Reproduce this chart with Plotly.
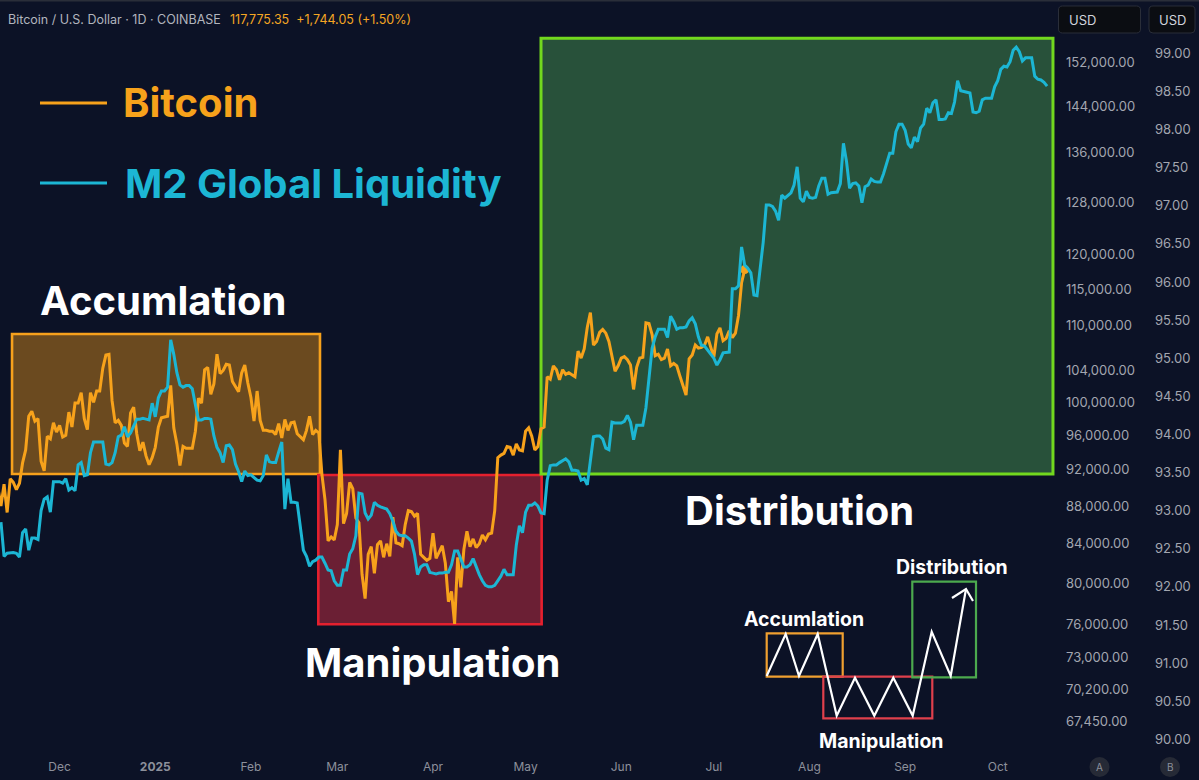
import plotly.graph_objects as go
import pandas as pd

# ---------------- DATA ----------------
# Bitcoin daily close, thousands of USD
btc_2024_11 = [90.0, 88.0, 90.4, 87.3, 91.0, 90.6, 89.8, 90.5, 92.8, 94.3, 98.3, 98.9, 97.7, 98.0, 93.0, 91.9, 95.9, 95.6, 97.5, 96.4]
btc_2024_12 = [97.2, 95.8, 96.0, 98.8, 97.0, 99.9, 99.9, 101.2, 98.0, 96.7, 101.2, 100.0, 101.4, 101.4, 104.3, 106.0, 106.1, 100.2, 97.5, 97.8,
               97.2, 95.1, 94.7, 98.7, 99.4, 96.2, 94.2, 95.2, 93.6, 92.6, 93.4]
btc_2025_01 = [94.6, 97.0, 98.1, 98.2, 98.3, 102.1, 96.9, 95.0, 92.5, 94.7, 94.5, 94.5, 94.5, 96.5, 100.5, 99.9, 104.1, 104.4, 101.0, 102.3,
               106.1, 103.6, 104.0, 104.8, 104.7, 102.6, 102.0, 101.3, 103.7, 104.7, 102.4]
btc_2025_02 = [100.6, 97.7, 101.4, 97.8, 96.6, 96.6, 96.5, 96.5, 96.1, 97.4, 95.7, 97.9, 96.6, 97.5, 97.6, 96.2, 95.8, 95.5, 96.6, 98.3,
               96.1, 96.6, 96.3, 91.5, 88.7, 84.3, 84.7, 84.4]
btc_2025_03 = [86.0, 94.3, 86.1, 87.2, 90.6, 89.9, 86.7, 86.2, 80.9, 78.5, 82.9, 83.7, 81.0, 83.9, 84.3, 82.6, 84.0, 82.7, 86.8, 84.1,
               84.0, 83.8, 86.0, 87.5, 87.4, 86.9, 87.2, 82.9, 82.6, 82.3, 82.5]
btc_2025_04 = [85.1, 82.5, 83.1, 83.8, 82.0, 78.2, 79.2, 76.1, 82.6, 79.6, 83.4, 85.3, 83.7, 84.5, 83.6, 84.0, 84.9, 84.4, 85.0, 85.1,
               87.5, 93.4, 93.7, 93.9, 94.7, 94.6, 93.7, 95.0, 94.3, 94.2]
btc_2025_05 = [96.5, 96.9, 95.9, 94.3, 94.7, 96.8, 97.0, 103.2, 102.9, 104.6, 104.1, 102.8, 104.1, 103.5, 103.7, 103.5, 103.2, 106.5, 105.6, 106.8,
               109.7, 111.7, 107.3, 107.8, 109.0, 109.4, 108.9, 107.8, 105.6, 103.9, 104.6]
btc_2025_06 = [105.6, 105.8, 105.4, 104.7, 101.6, 104.4, 105.6, 105.7, 110.3, 110.2, 108.7, 105.9, 106.1, 105.4, 105.6, 106.8, 104.6, 104.9, 104.6, 103.3,
               102.1, 100.9, 105.5, 106.0, 107.3, 106.9, 107.0, 107.3, 108.4, 107.1]
btc_2025_07 = [105.7, 108.8, 109.6, 107.9, 108.2, 109.2, 108.3, 108.9, 111.3, 115.9, 117.775]

btc_months = [("2024-11-11", btc_2024_11), ("2024-12-01", btc_2024_12), ("2025-01-01", btc_2025_01),
              ("2025-02-01", btc_2025_02), ("2025-03-01", btc_2025_03), ("2025-04-01", btc_2025_04),
              ("2025-05-01", btc_2025_05), ("2025-06-01", btc_2025_06), ("2025-07-01", btc_2025_07)]

# M2 Global Liquidity (shifted), index value on right scale
m2_2024_11 = [92.85, 92.40, 92.44, 92.45, 92.45, 92.44, 92.39, 92.71, 92.76, 92.48, 92.64, 92.64, 92.62, 93.00, 93.15, 93.18, 92.98, 93.38, 93.38]
m2_2024_12 = [93.38, 93.36, 93.42, 93.27, 93.30, 93.26, 93.60, 93.63, 93.46, 93.47, 93.76, 93.90, 93.90, 93.90, 93.90, 93.61, 93.60, 93.63, 93.76, 93.97,
              93.99, 94.10, 93.97, 94.02, 94.10, 94.20, 94.20, 94.21, 94.20, 94.19, 94.41]
m2_2025_01 = [94.23, 94.48, 94.57, 94.57, 94.62, 95.24, 95.05, 94.81, 94.65, 94.62, 94.64, 94.64, 94.60, 94.39, 94.19, 94.19, 94.21, 94.21, 94.20, 93.98,
              93.83, 93.76, 93.63, 93.85, 93.86, 93.80, 93.61, 93.51, 93.38, 93.52, 93.46]
m2_2025_02 = [93.47, 93.44, 93.40, 93.39, 93.46, 93.73, 93.64, 93.63, 93.63, 93.77, 93.90, 93.02, 93.42, 93.11, 93.11, 93.10, 92.79, 92.48, 92.40, 92.27,
              92.33, 92.35, 92.39, 92.39, 92.31, 92.22, 92.21, 92.08]
m2_2025_03 = [92.02, 92.02, 92.22, 92.22, 92.43, 92.50, 92.67, 93.23, 93.22, 92.97, 92.89, 92.94, 93.11, 93.07, 93.05, 93.04, 93.02, 92.96, 92.86, 92.73,
              92.68, 92.67, 92.67, 92.64, 92.60, 92.43, 92.16, 92.26, 92.29, 92.29, 92.19]
m2_2025_04 = [92.18, 92.17, 92.18, 92.18, 92.19, 92.19, 92.29, 92.47, 92.47, 92.35, 92.26, 92.26, 92.29, 92.37, 92.26, 92.16, 92.08, 92.02, 92.00, 92.00,
              92.02, 92.08, 92.14, 92.23, 92.16, 92.16, 92.16, 92.55, 92.80, 92.71]
m2_2025_05 = [92.98, 93.07, 93.07, 93.10, 93.06, 92.97, 92.96, 93.40, 93.59, 93.60, 93.60, 93.63, 93.65, 93.68, 93.64, 93.53, 93.53, 93.52, 93.40, 93.42,
              93.34, 93.66, 93.97, 93.98, 93.98, 93.94, 93.82, 93.80, 94.16, 94.15, 94.15]
m2_2025_06 = [94.15, 94.17, 94.25, 94.16, 93.93, 94.12, 94.12, 94.12, 94.35, 94.71, 95.13, 95.28, 95.38, 95.38, 95.38, 95.27, 95.55, 95.48, 95.38, 95.40,
              95.40, 95.41, 95.49, 95.53, 95.45, 95.28, 95.17, 95.16, 95.11, 95.06]
m2_2025_07 = [95.00, 94.91, 94.98, 95.07, 95.08, 95.08, 95.91, 95.91, 95.95, 96.46, 96.22, 96.18, 96.12, 95.83, 95.82, 96.18, 96.52, 97.01, 97.01, 96.99,
              96.93, 96.81, 97.14, 97.10, 97.14, 97.17, 97.27, 97.51, 97.10, 97.05, 97.19]
m2_2025_08 = [97.11, 97.10, 97.11, 97.26, 97.36, 97.36, 97.15, 97.17, 97.18, 97.18, 97.29, 97.82, 97.58, 97.23, 97.29, 97.30, 97.26, 97.04, 97.25, 97.27,
              97.35, 97.32, 97.31, 97.31, 97.42, 97.54, 97.69, 97.69, 97.97, 98.07, 98.07]
m2_2025_09 = [97.99, 97.81, 97.76, 97.90, 97.84, 98.02, 98.07, 98.28, 98.22, 98.35, 98.39, 98.13, 98.13, 98.14, 98.22, 98.21, 98.36, 98.64, 98.51, 98.50,
              98.49, 98.48, 98.23, 98.22, 98.24, 98.39, 98.41, 98.41, 98.41, 98.56]
m2_2025_10 = [98.64, 98.79, 98.83, 98.82, 98.89, 99.04, 99.08, 99.02, 98.90, 98.94, 98.94, 98.94, 98.70, 98.66, 98.65, 98.62, 98.57]

m2_months = [("2024-11-12", m2_2024_11), ("2024-12-01", m2_2024_12), ("2025-01-01", m2_2025_01),
             ("2025-02-01", m2_2025_02), ("2025-03-01", m2_2025_03), ("2025-04-01", m2_2025_04),
             ("2025-05-01", m2_2025_05), ("2025-06-01", m2_2025_06), ("2025-07-01", m2_2025_07),
             ("2025-08-01", m2_2025_08), ("2025-09-01", m2_2025_09), ("2025-10-01", m2_2025_10)]

# axis ticks
x_tick_dates = ["2024-12-01", "2025-01-01", "2025-02-01", "2025-03-01", "2025-04-01", "2025-05-01",
                "2025-06-01", "2025-07-01", "2025-08-01", "2025-09-01", "2025-10-01"]
x_tick_labels = ["Dec", "2025", "Feb", "Mar", "Apr", "May", "Jun", "Jul", "Aug", "Sep", "Oct"]
btc_ticks = [67450, 70200, 73000, 76000, 80000, 84000, 88000, 92000, 96000, 100000, 104000,
             110000, 115000, 120000, 128000, 136000, 144000, 152000]
m2_ticks = [90.0, 90.5, 91.0, 91.5, 92.0, 92.5, 93.0, 93.5, 94.0, 94.5, 95.0, 95.5, 96.0,
            96.5, 97.0, 97.5, 98.0, 98.5, 99.0]

# phase boxes: (start date, end date, low, high on M2 scale)
phase_acc = ("2024-11-15 14:00", "2025-02-23 09:00", 93.48, 95.317)
phase_man = ("2025-02-22 20:00", "2025-05-06 05:00", 91.509, 93.467)
phase_dis = ("2025-05-06 00:00", "2025-10-18 21:40", 93.48, 99.197)

# ---------------- BUILD SERIES ----------------
def build(months, scale=1.0):
    xs, ys = [], []
    for start, vals in months:
        xs += list(pd.date_range(start, periods=len(vals), freq="D"))
        ys += [v * scale for v in vals]
    return xs, ys

btc_x, btc_y = build(btc_months, 1000.0)
m2_x, m2_y = build(m2_months)

# ---------------- STYLE ----------------
W, H = 1199, 780
MT, MB = 30, 22
BG = "#0c1226"
ORANGE = "#f7a21b"
CYAN = "#1cb6d4"
FONT = "Inter"

def px(x):
    return x / W

def py(y):
    return (H - MB - y) / (H - MT - MB)

fig = go.Figure()
fig.add_trace(go.Scatter(x=btc_x, y=btc_y, mode="lines", yaxis="y",
                         line=dict(color=ORANGE, width=3), hoverinfo="skip"))
fig.add_trace(go.Scatter(x=[btc_x[-1]], y=[btc_y[-1]], mode="markers", yaxis="y",
                         marker=dict(color=ORANGE, size=9), hoverinfo="skip"))
fig.add_trace(go.Scatter(x=m2_x, y=m2_y, mode="lines", yaxis="y2",
                         line=dict(color=CYAN, width=3), hoverinfo="skip"))

shapes = []
for (x0, x1, y0, y1), border, fill, lw in [
        (phase_acc, "#f7a11c", "#6b4a1f", 2.6),
        (phase_man, "#e5202e", "#6b1f34", 2.6),
        (phase_dis, "#72d81e", "#28513a", 3.0)]:
    shapes.append(dict(type="rect", xref="x", yref="y2", x0=x0, x1=x1, y0=y0, y1=y1,
                       line=dict(color=border, width=lw), fillcolor=fill, layer="below"))

# legend lines
shapes.append(dict(type="line", xref="paper", yref="paper", x0=px(40), x1=px(107), y0=py(103), y1=py(103),
                   line=dict(color=ORANGE, width=3)))
shapes.append(dict(type="line", xref="paper", yref="paper", x0=px(40), x1=px(107), y0=py(183), y1=py(183),
                   line=dict(color=CYAN, width=3)))

# schematic boxes
for (x0, y0, x1, y1), c in [((766.7, 633.3, 842.7, 676.7), "#f0a030"),
                            ((823.3, 676.7, 932.3, 718.3), "#e0404c"),
                            ((912.3, 581.7, 976.0, 677.3), "#4caa4e")]:
    shapes.append(dict(type="rect", xref="paper", yref="paper", x0=px(x0), x1=px(x1), y0=py(y0), y1=py(y1),
                       line=dict(color=c, width=2.2), layer="above"))

def path_of(pts, close=False):
    s = "M " + " L ".join(f"{px(x):.5f},{py(y):.5f}" for x, y in pts)
    return s + (" Z" if close else "")

zig = [(766.7, 676), (785.7, 634), (799, 676), (817.7, 634), (836.7, 715.7), (855, 677.7),
       (874.3, 715.7), (893.3, 677.7), (912.7, 715.7), (931.7, 631.7), (950.7, 676), (966, 589)]
shapes.append(dict(type="path", xref="paper", yref="paper", path=path_of(zig),
                   line=dict(color="white", width=2.2), layer="above"))
shapes.append(dict(type="path", xref="paper", yref="paper", path=path_of([(952, 598), (966, 589), (973, 601)]),
                   line=dict(color="white", width=2.2), layer="above"))

# USD buttons (rounded)
def rrect(x0, y0, x1, y1, r):
    P = lambda x, y: f"{px(x):.5f},{py(y):.5f}"
    return (f"M {P(x0 + r, y0)} L {P(x1 - r, y0)} Q {P(x1, y0)} {P(x1, y0 + r)} "
            f"L {P(x1, y1 - r)} Q {P(x1, y1)} {P(x1 - r, y1)} L {P(x0 + r, y1)} "
            f"Q {P(x0, y1)} {P(x0, y1 - r)} L {P(x0, y0 + r)} Q {P(x0, y0)} {P(x0 + r, y0)} Z")

for b in [(1058.5, 6, 1140.5, 33), (1149, 6, 1195, 33)]:
    shapes.append(dict(type="path", xref="paper", yref="paper", path=rrect(*b, 4),
                       fillcolor="#0b0d12", line=dict(color="#2a2e39", width=1), layer="above"))
# top separator
shapes.append(dict(type="line", xref="paper", yref="paper", x0=0, x1=1, y0=py(0.7), y1=py(0.7),
                   line=dict(color="#2a2e39", width=1.5)))
# A / B circles
for cx in [1099.5, 1170]:
    shapes.append(dict(type="circle", xref="paper", yref="paper", x0=px(cx - 10), x1=px(cx + 10),
                       y0=py(777), y1=py(757), fillcolor="#262a36", line=dict(width=0), layer="above"))

ann = []
def text(x, y, s, size, color, xanchor="center", bold=True):
    ann.append(dict(x=px(x), y=py(y), xref="paper", yref="paper", text=(f"<b>{s}</b>" if bold else s),
                    showarrow=False, xanchor=xanchor, yanchor="middle",
                    font=dict(family=FONT, size=size, color=color)))

text(6, 19, "Bitcoin / U.S. Dollar · 1D · COINBASE", 12.5, "#b2b5be", "left", False)
text(228, 19, "117,775.35&nbsp;&nbsp;+1,744.05 (+1.50%)", 12.5, "#f5a623", "left", False)
text(1067, 19.5, "USD", 13, "#d1d4dc", "left", False)
text(1172, 19.5, "USD", 13, "#d1d4dc", "center", False)
text(1099.5, 767, "A", 10, "#8c909b", "center", False)
text(1170, 767, "B", 10, "#8c909b", "center", False)

text(121, 103, "Bitcoin", 40, ORANGE, "left")
text(123, 183, "M2 Global Liquidity", 40, CYAN, "left")
text(163, 300, "Accumlation", 40, "white")
text(433, 662, "Manipulation", 40, "white")
text(800, 510, "Distribution", 40, "white")
text(804, 619, "Accumlation", 19.5, "white")
text(881, 741, "Manipulation", 19.5, "white")
text(952, 567, "Distribution", 19.5, "white")

fig.update_layout(
    width=W, height=H, margin=dict(l=0, r=0, t=MT, b=MB),
    paper_bgcolor=BG, plot_bgcolor=BG, showlegend=False,
    shapes=shapes, annotations=ann,
    xaxis=dict(domain=[0, 1055 / W], type="date", range=["2024-11-11 16:28", "2025-10-19 13:27"],
               showgrid=False, zeroline=False, showline=False, ticks="",
               tickvals=x_tick_dates,
               ticktext=[f"<b>{t}</b>" if t.isdigit() else t for t in x_tick_labels],
               tickfont=dict(family=FONT, size=12, color="#8c909b")),
    yaxis=dict(type="log", range=[4.809544, 5.19935], side="right", anchor="x",
               showgrid=False, zeroline=False, showline=False, ticks="",
               tickvals=btc_ticks, ticktext=[f"{v:,.2f}" for v in btc_ticks],
               tickfont=dict(family=FONT, size=13, color="#a3a6b0"), ticklabelstandoff=10),
    yaxis2=dict(range=[89.7544, 99.3057], overlaying="y", side="right", anchor="free",
                position=1150 / W, showgrid=False, zeroline=False, showline=False, ticks="",
                tickvals=m2_ticks, ticktext=[f"{v:.2f}" for v in m2_ticks],
                tickfont=dict(family=FONT, size=13, color="#a3a6b0"), ticklabelstandoff=4),
)

fig.write_html("out.html", config={"displayModeBar": False},
               post_script="document.body.style.margin='0px';document.body.style.overflow='hidden';")
